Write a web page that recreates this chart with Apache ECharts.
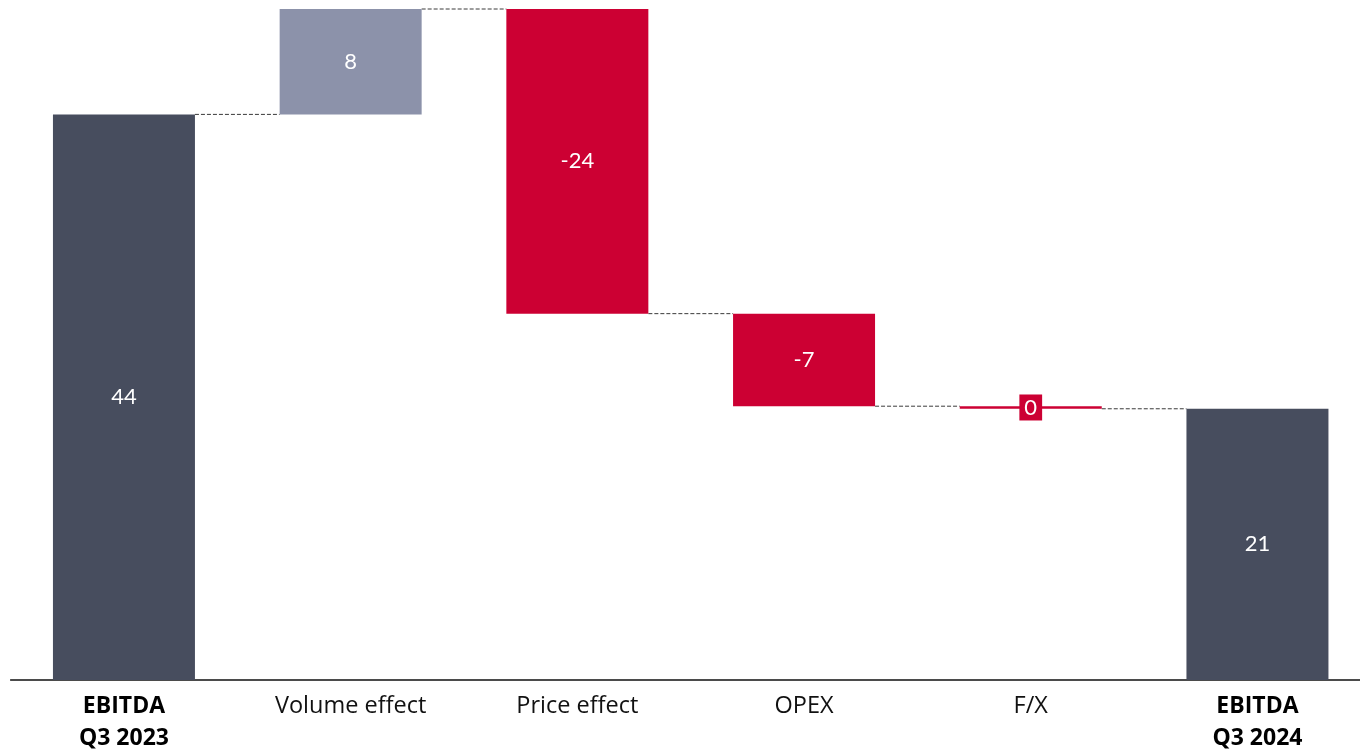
<!DOCTYPE html>
<html>
<head>
<meta charset="utf-8">
<script src="https://cdn.jsdelivr.net/npm/echarts@6/dist/echarts.min.js"></script>
<style>
html,body{margin:0;padding:0;background:#fff;}
#c{width:1360px;height:751px;}
</style>
</head>
<body>
<div id="c"></div>
<script>
const categories = ['EBITDA\nQ3 2023', 'Volume effect', 'Price effect', 'OPEX', 'F/X', 'EBITDA\nQ3 2024'];
const values = [44, 8.2, -23.7, -7.2, -0.2, 21.1];
const kinds = ['total', 'delta', 'delta', 'delta', 'delta', 'total'];
const boldCats = [0, 5];

const COL_TOTAL = '#474d5e';
const COL_POS = '#8c92aa';
const COL_NEG = '#cc0033';
const BAR_W = 142;
const FONT = 'Lato, "Open Sans", sans-serif';
const AXIS_FONT = '"Open Sans", Lato, sans-serif';

// waterfall computation
const bases = [], heights = [], levels = [];
let cum = 0;
values.forEach((v, i) => {
  if (kinds[i] === 'total') {
    bases.push(0); heights.push(v); cum = v;
  } else {
    const n = cum + v;
    bases.push(Math.min(cum, n)); heights.push(Math.abs(v)); cum = n;
  }
  levels.push(cum);
});

const barData = heights.map((h, i) => {
  const color = kinds[i] === 'total' ? COL_TOTAL : (values[i] >= 0 ? COL_POS : COL_NEG);
  const item = { value: h, itemStyle: { color } };
  if (kinds[i] === 'delta' && heights[i] < 1) {
    item.label = { backgroundColor: COL_NEG, padding: [3, 5, 1, 5] };
  }
  return item;
});

const connData = [];
for (let i = 0; i < values.length - 1; i++) connData.push([i, levels[i]]);

const chart = echarts.init(document.getElementById('c'));
chart.setOption({
  animation: false,
  grid: { left: 10.6, right: -10.8, top: 9, bottom: 71, outerBoundsMode: 'none', containLabel: false },
  xAxis: {
    type: 'category',
    data: categories,
    axisTick: { show: false },
    axisLine: { lineStyle: { color: '#111', width: 1.5 } },
    axisLabel: {
      interval: 0,
      margin: 10,
      color: '#111',
      fontFamily: AXIS_FONT,
      fontSize: 23.5,
      lineHeight: 32,
      formatter: (val, idx) => {
        if (boldCats.includes(idx)) return val.split('\n').map(s => '{b|' + s + '}').join('\n');
        return val;
      },
      rich: { b: { fontWeight: 'bold', fontSize: 23, lineHeight: 32, color: '#000', fontFamily: AXIS_FONT } }
    }
  },
  yAxis: { type: 'value', min: 0, max: 52.2, show: false, splitLine: { show: false } },
  series: [
    {
      type: 'bar', stack: 'w', barWidth: BAR_W,
      itemStyle: { color: 'transparent' },
      emphasis: { disabled: true },
      data: bases
    },
    {
      type: 'bar', stack: 'w', barWidth: BAR_W,
      data: barData,
      label: {
        show: true, position: 'inside', color: '#fff',
        fontFamily: FONT, fontSize: 22,
        formatter: p => String(Math.round(values[p.dataIndex]))
      }
    },
    {
      type: 'custom',
      data: connData,
      z: 1,
      renderItem: (params, api) => {
        const i = api.value(0), lv = api.value(1);
        const p1 = api.coord([i, lv]);
        const p2 = api.coord([i + 1, lv]);
        return {
          type: 'line',
          shape: { x1: p1[0] + BAR_W / 2, y1: p1[1], x2: p2[0] - BAR_W / 2, y2: p2[1] },
          style: { stroke: '#3a3a3a', lineWidth: 1, lineDash: [4, 2] }
        };
      }
    }
  ]
});
</script>
</body>
</html>
